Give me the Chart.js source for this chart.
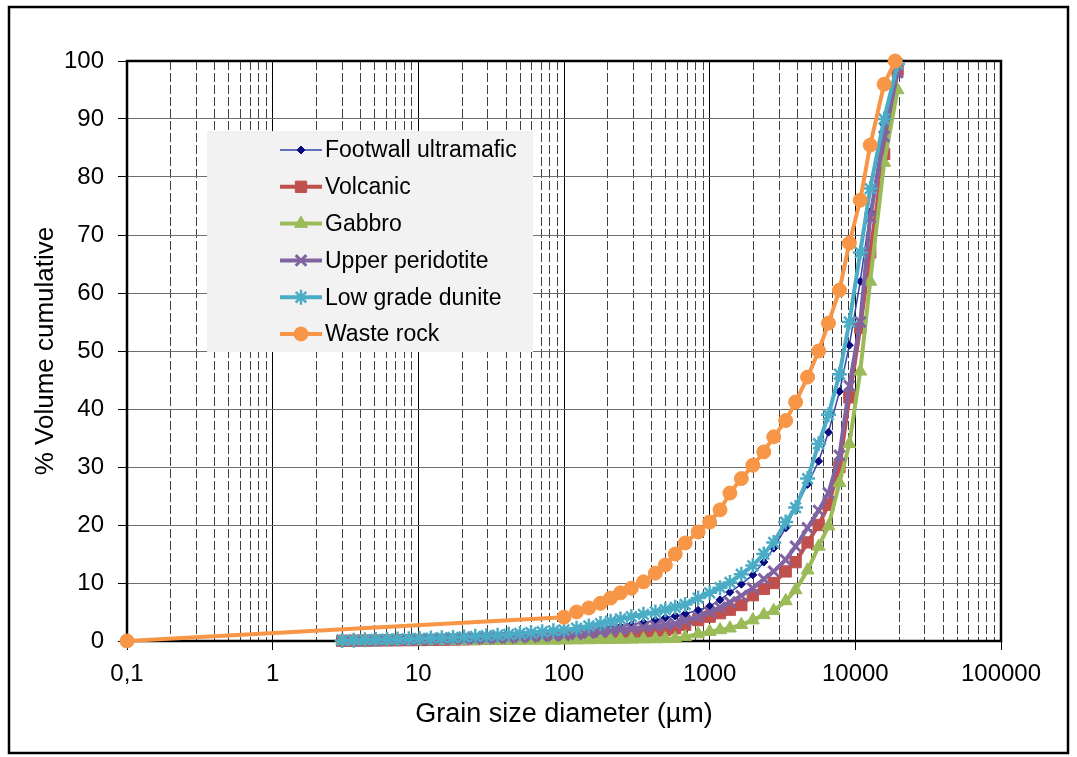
<!DOCTYPE html>
<html>
<head>
<meta charset="utf-8">
<title>Grain size distribution</title>
<script src="https://cdn.jsdelivr.net/npm/chart.js@4.4.1/dist/chart.umd.min.js"></script>
<style>
  body { margin: 0; background: #fff; }
  #wrap { width: 1077px; height: 757px; }
</style>
</head>
<body>
<div id="wrap"><canvas id="psd" width="1077" height="757"></canvas></div>
<script>
// grain sizes (µm) shared by the five rock types
const sizes = [3, 3.6, 4.3, 5.1, 6.1, 7.2, 8.6, 10.2, 12.2, 14.5, 17.3, 20.6, 24.6, 29.3, 35, 41.7, 49.8, 59.4, 70.8, 84.5,
  100, 122, 148, 178, 209, 244, 290, 351, 424, 496, 580,
  679, 833, 1000, 1178, 1377, 1650, 1978, 2353, 2752, 3325, 3890, 4700, 5600, 6540, 7780, 9100, 10810, 12650, 15770, 19500];

const footwall = [0.05, 0.1, 0.12, 0.15, 0.18, 0.2, 0.23, 0.26, 0.3, 0.33, 0.37, 0.42, 0.48, 0.55, 0.62, 0.7, 0.8, 0.9, 1.0, 1.1,
  1.2, 1.4, 1.6, 1.9, 2.2, 2.5, 2.8, 3.2, 3.6, 4.0, 4.3,
  4.7, 5.3, 6.0, 7.1, 8.4, 9.8, 11.4, 13.6, 16, 19.5, 23, 27, 31, 36, 43, 51, 62, 74, 89, 98];

const volcanic = [0.03, 0.05, 0.07, 0.09, 0.11, 0.13, 0.15, 0.17, 0.2, 0.22, 0.25, 0.28, 0.32, 0.36, 0.4, 0.45, 0.5, 0.55, 0.6, 0.65,
  0.7, 0.8, 0.9, 1.0, 1.1, 1.2, 1.3, 1.5, 1.7, 1.9, 2.2,
  2.8, 3.6, 4.2, 4.8, 5.4, 6.2, 7.9, 9.0, 10, 12, 13.6, 17, 20, 23.5, 30, 42, 54, 67, 84, 98.5];

const gabbro = [0, 0.01, 0.01, 0.02, 0.02, 0.03, 0.03, 0.04, 0.04, 0.05, 0.05, 0.06, 0.06, 0.07, 0.07, 0.08, 0.08, 0.09, 0.09, 0.1,
  0.12, 0.14, 0.17, 0.2, 0.22, 0.25, 0.28, 0.31, 0.34, 0.37, 0.4,
  0.7, 1.2, 1.6, 1.9, 2.2, 2.8, 3.6, 4.5, 5.2, 6.9, 8.8, 12.2, 16.3, 19.8, 27.3, 34, 46.5, 62, 82.5, 95];

const upperPeridotite = [0.05, 0.08, 0.1, 0.12, 0.15, 0.18, 0.2, 0.23, 0.26, 0.3, 0.33, 0.37, 0.42, 0.48, 0.54, 0.6, 0.68, 0.76, 0.85, 0.92,
  1.0, 1.2, 1.4, 1.6, 1.8, 2.0, 2.2, 2.4, 2.6, 2.8, 3.0,
  3.5, 4.2, 5.0, 5.8, 6.7, 7.8, 9.1, 10.7, 12.0, 14.0, 16.3, 19.5, 22.5, 25.5, 32, 44, 55, 73, 87, 98];

const lowGradeDunite = [0.1, 0.15, 0.2, 0.25, 0.3, 0.35, 0.4, 0.45, 0.5, 0.55, 0.6, 0.7, 0.8, 0.9, 1.0, 1.15, 1.3, 1.45, 1.6, 1.75,
  1.9, 2.2, 2.6, 3.0, 3.4, 3.8, 4.2, 4.6, 5.0, 5.4, 5.8,
  6.3, 7.4, 8.3, 9.2, 10.1, 11.5, 13, 15, 17, 20.5, 23, 28, 34, 39, 46, 55, 67, 78, 90, 99.5];

// waste rock has its own size steps
const wasteSizes = [0.1, 100, 122, 148, 178, 209, 244, 290, 351, 424, 496, 580, 679, 833, 1000, 1178, 1377, 1650,
  1978, 2353, 2752, 3325, 3890, 4700, 5600, 6540, 7780, 9100, 10810, 12650, 15770, 18770];
const wasteRock = [0, 4.1, 5.0, 5.7, 6.5, 7.4, 8.3, 9.1, 10.2, 11.7, 13.1, 15.0, 16.9, 18.8, 20.5, 22.6, 25.5, 28.0,
  30.3, 32.6, 35.2, 38.0, 41.2, 45.5, 50.0, 54.8, 60.5, 68.6, 76.0, 85.5, 96.0, 100];

const seriesNames = ['Footwall ultramafic', 'Volcanic', 'Gabbro', 'Upper peridotite', 'Low grade dunite', 'Waste rock'];
const xDecades = [0.1, 1, 10, 100, 1000, 10000, 100000];
const xTickLabels = ['0,1', '1', '10', '100', '1000', '10000', '100000'];

const FONT = "'Liberation Sans', Arial, sans-serif";

function pts(xs, ys) {
  return xs.map((x, i) => ({ x: x, y: ys[i] }));
}

function isDecade(v) {
  const l = Math.log10(v);
  return Math.abs(l - Math.round(l)) < 1e-6;
}

const styles = [
  { line: '#3346a8', fill: '#0a0a80', width: 1.5, pointStyle: 'rectRot', radius: 4, bw: 1, order: 5 },
  { line: '#c0504d', fill: '#c0504d', width: 4, pointStyle: 'rect', radius: 8, bw: 1, order: 4 },
  { line: '#9bbb59', fill: '#9bbb59', width: 4, pointStyle: 'triangle', radius: 7.5, bw: 1, order: 3 },
  { line: '#8064a2', fill: '#8064a2', width: 4, pointStyle: 'crossRot', radius: 7.5, bw: 3, order: 2 },
  { line: '#4bacc6', fill: '#4bacc6', width: 4, pointStyle: 'star', radius: 7.5, bw: 2.5, order: 1 },
  { line: '#f79646', fill: '#f79646', width: 4, pointStyle: 'circle', radius: 7, bw: 1, order: 0 }
];

const seriesData = [
  pts(sizes, footwall),
  pts(sizes, volcanic),
  pts(sizes, gabbro),
  pts(sizes, upperPeridotite),
  pts(sizes, lowGradeDunite),
  pts(wasteSizes, wasteRock)
];

const datasets = seriesData.map((d, i) => ({
  label: seriesNames[i],
  data: d,
  borderColor: styles[i].line,
  borderWidth: styles[i].width,
  backgroundColor: styles[i].fill,
  pointBackgroundColor: styles[i].fill,
  pointBorderColor: styles[i].fill,
  pointBorderWidth: styles[i].bw,
  pointStyle: styles[i].pointStyle,
  pointRadius: styles[i].radius,
  pointHoverRadius: styles[i].radius,
  tension: 0,
  clip: false,
  order: styles[i].order
}));

// grid positions: every 1..9 step inside each decade
const xGrid = [];
xDecades.forEach((d, i) => {
  if (i === xDecades.length - 1) { xGrid.push(d); return; }
  for (let m = 1; m <= 9; m++) xGrid.push(+(d * m).toPrecision(6));
});

const framePlugin = {
  id: 'frame',
  beforeDatasetsDraw(chart) {
    const a = chart.chartArea;
    const ctx = chart.ctx;
    ctx.save();
    ctx.strokeStyle = '#000';
    ctx.lineWidth = 2.5;
    ctx.strokeRect(a.left, a.top, a.right - a.left, a.bottom - a.top);
    ctx.restore();
  },
  afterDraw(chart) {
    const ctx = chart.ctx;
    ctx.save();
    ctx.strokeStyle = '#000';
    ctx.lineWidth = 2.5;
    ctx.strokeRect(9, 7, 1059, 746);

    // legend box inside the plot
    ctx.fillStyle = '#f2f2f2';
    ctx.fillRect(207, 131, 326, 221);
    ctx.font = '23px ' + FONT;
    ctx.textBaseline = 'middle';
    seriesNames.forEach((name, i) => {
      const y = 150 + i * 36.8;
      const s = styles[i];
      ctx.strokeStyle = s.line;
      ctx.lineWidth = s.width;
      ctx.beginPath();
      ctx.moveTo(280, y);
      ctx.lineTo(322, y);
      ctx.stroke();
      ctx.fillStyle = s.fill;
      ctx.strokeStyle = s.fill;
      ctx.lineWidth = s.bw;
      Chart.helpers.drawPoint(ctx, { pointStyle: s.pointStyle, radius: s.radius, rotation: 0, borderWidth: s.bw }, 301, y);
      ctx.fillStyle = '#000';
      ctx.fillText(name, 325, y + 1);
    });
    ctx.restore();
  }
};

new Chart(document.getElementById('psd'), {
  type: 'line',
  data: { datasets: datasets },
  options: {
    responsive: false,
    animation: false,
    layout: { padding: { top: 61, right: 76, left: 12, bottom: 10 } },
    plugins: {
      legend: { display: false },
      tooltip: { enabled: false }
    },
    scales: {
      x: {
        type: 'logarithmic',
        min: 0.1,
        max: 100000,
        afterBuildTicks: (scale) => {
          scale.ticks = xGrid.map(v => ({ value: v, major: isDecade(v) }));
        },
        afterFit: (scale) => { scale.height = 106; },
        grid: {
          color: (c) => (c.tick && isDecade(c.tick.value)) ? '#000' : '#404040',
          tickColor: (c) => (c.tick && isDecade(c.tick.value)) ? '#000' : 'rgba(0,0,0,0)',
          lineWidth: 1,
          tickLength: 9
        },
        border: {
          display: false,
          dash: (c) => (c.tick && !isDecade(c.tick.value)) ? [9, 3] : []
        },
        ticks: {
          autoSkip: false,
          maxRotation: 0,
          padding: 10,
          color: '#000',
          font: { family: FONT, size: 24 },
          callback: (v) => {
            const k = xDecades.findIndex(d => Math.abs(d - v) < d * 1e-6);
            return k >= 0 ? xTickLabels[k] : '';
          }
        },
        title: {
          display: true,
          text: 'Grain size diameter (µm)',
          color: '#000',
          font: { family: FONT, size: 27 },
          padding: { top: 0, bottom: 16 }
        }
      },
      y: {
        min: 0,
        max: 100,
        afterFit: (scale) => { scale.width = 115; },
        grid: {
          color: '#6e6e6e',
          tickColor: '#000',
          lineWidth: 1,
          tickLength: 9
        },
        border: { display: false },
        ticks: {
          stepSize: 10,
          padding: 14,
          color: '#000',
          font: { family: FONT, size: 24 }
        },
        title: {
          display: true,
          text: '% Volume cumulative',
          color: '#000',
          font: { family: FONT, size: 26 },
          padding: { top: 18, bottom: 0 }
        }
      }
    }
  },
  plugins: [framePlugin]
});
</script>
</body>
</html>
